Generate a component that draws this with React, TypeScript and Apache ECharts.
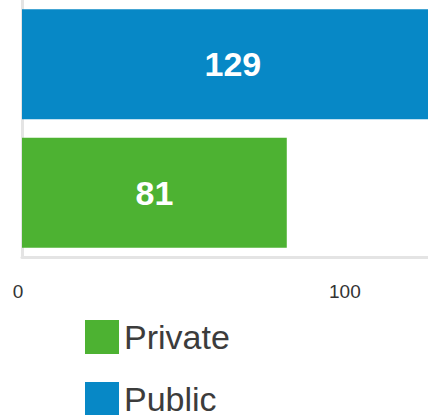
import React, { useEffect, useRef } from "react";
import * as echarts from "echarts";

const categories = ["Private", "Public"];
const privateValues: (number | string)[] = [81, "-"];
const publicValues: (number | string)[] = ["-", 129];
const legendNames = ["Private", "Public"];

export default function App() {
  const ref = useRef<HTMLDivElement>(null);
  useEffect(() => {
    document.body.style.margin = "0";
    const chart = echarts.init(ref.current!, null, { renderer: "svg" });
    const labelStyle = {
      show: true,
      position: "inside" as const,
      color: "#ffffff",
      fontSize: 34,
      fontWeight: "bold" as const,
      fontFamily: "Liberation Sans, Arial, sans-serif",
    };
    const legendBase = {
      left: 80,
      itemWidth: 34,
      itemHeight: 34,
      icon: "rect",
      textStyle: {
        color: "#3c3c3c",
        fontSize: 34,
        lineHeight: 34,
        fontFamily: "Liberation Sans, Arial, sans-serif",
      },
    };
    chart.setOption({
      animation: false,
      grid: { left: 22, right: 0, top: 0, height: 257, containLabel: false },
      xAxis: {
        type: "value",
        min: 0,
        max: 124.2,
        interval: 100,
        axisLine: { show: true, lineStyle: { color: "#e4e4e4", width: 3 } },
        axisTick: { show: false },
        splitLine: { show: false },
        axisLabel: {
          color: "#333333",
          fontSize: 19,
          fontFamily: "Liberation Sans, Arial, sans-serif",
          margin: 25,
          padding: [0, 8, 0, 0],
          showMaxLabel: false,
        },
      },
      yAxis: {
        type: "category",
        data: categories,
        axisLine: { show: true, lineStyle: { color: "#e4e4e4", width: 3 } },
        axisTick: { show: false },
        axisLabel: { show: false },
        splitLine: { show: false },
      },
      legend: [
        { ...legendBase, data: [legendNames[0]], top: 315 },
        { ...legendBase, data: [legendNames[1]], top: 377 },
      ],
      series: [
        {
          name: "Private",
          type: "bar",
          stack: "s",
          clip: false,
          data: privateValues,
          barWidth: 110,
          itemStyle: { color: "#4db232" },
          label: labelStyle,
        },
        {
          name: "Public",
          type: "bar",
          stack: "s",
          clip: false,
          data: publicValues,
          barWidth: 110,
          itemStyle: { color: "#0788c6" },
          label: labelStyle,
        },
      ],
    });
    return () => chart.dispose();
  }, []);
  return <div ref={ref} style={{ width: 428, height: 415 }} />;
}
